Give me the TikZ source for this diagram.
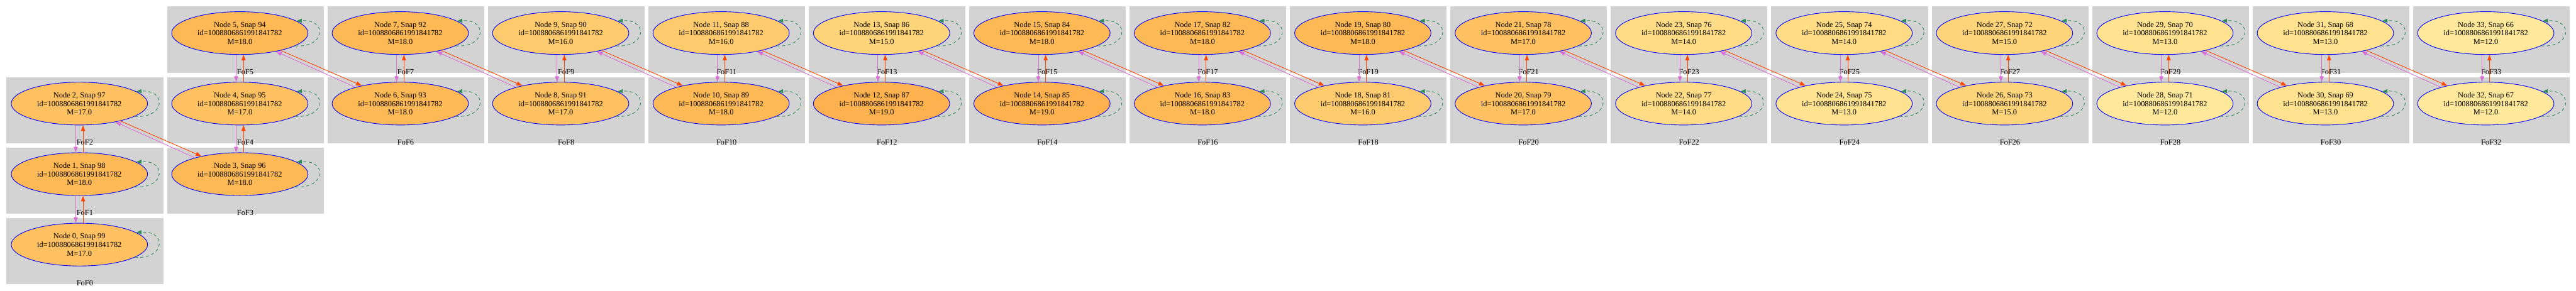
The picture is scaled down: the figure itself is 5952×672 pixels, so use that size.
\documentclass[tikz,border=0pt]{standalone}
\usepackage{fontspec}
\setmainfont{Liberation Serif}
\usetikzlibrary{shapes.geometric,arrows.meta}
\definecolor{clustergray}{HTML}{D3D3D3}
\definecolor{edgered}{HTML}{FF4500}
\definecolor{edgeviolet}{HTML}{DA70D6}
\definecolor{loopgreen}{HTML}{2E8B57}
\definecolor{m19}{HTML}{FDB24F}
\definecolor{m18}{HTML}{FDB955}
\definecolor{m17}{HTML}{FDC161}
\definecolor{m16}{HTML}{FDCB6D}
\definecolor{m15}{HTML}{FDD479}
\definecolor{m14}{HTML}{FEDC85}
\definecolor{m13}{HTML}{FEE290}
\definecolor{m12}{HTML}{FEE89B}
\tikzset{
  fofcluster/.style={fill=clustergray, draw=none, minimum width=362pt, minimum height=153pt, inner sep=0pt, anchor=north west},
  fofnode/.style={ellipse, draw=blue, line width=1.3pt, minimum width=315pt, minimum height=99pt, inner sep=0pt, align=center, font=\fontsize{18}{20}\selectfont},
  foflabel/.style={anchor=base, inner sep=0pt, font=\fontsize{18}{20}\selectfont},
  rededge/.style={draw=edgered, line width=1.3pt, -{Triangle[length=13pt,width=9.5pt]}},
  vioedge/.style={draw=edgeviolet, line width=1.3pt, -{Triangle[length=13pt,width=9.5pt]}},
  selfloop/.style={draw=loopgreen, line width=1.3pt, dash pattern=on 7pt off 6pt, -{Triangle[length=12pt,width=9pt]}}
}
\begin{document}
\begin{tikzpicture}[x=1pt,y=-1pt]
\useasboundingbox (0,0) rectangle (5952,672);
\foreach \i/\c/\r/\m in {0/0/3/17, 1/0/2/18, 2/0/1/17, 3/1/2/18, 4/1/1/17, 5/1/0/18, 6/2/1/18, 7/2/0/18, 8/3/1/17, 9/3/0/16, 10/4/1/18, 11/4/0/16, 12/5/1/19, 13/5/0/15, 14/6/1/19, 15/6/0/18, 16/7/1/18, 17/7/0/18, 18/8/1/16, 19/8/0/18, 20/9/1/17, 21/9/0/17, 22/10/1/14, 23/10/0/14, 24/11/1/13, 25/11/0/14, 26/12/1/15, 27/12/0/15, 28/13/1/12, 29/13/0/13, 30/14/1/13, 31/14/0/13, 32/15/1/12, 33/15/0/12}{
  \pgfmathsetmacro\cl{15+370.67*\c}
  \pgfmathsetmacro\ct{15+163*\r}
  \pgfmathtruncatemacro\snap{99-\i}
  \node[fofcluster] (c\i) at (\cl,\ct) {};
  \node[foflabel] (lab\i) at (\cl+181,\ct+157) {FoF\i};
  \node[fofnode, fill=m\m] (n\i) at (\cl+168.5,\ct+61.5) {Node \i, Snap \snap\\id=1008806861991841782\\M=\m.0};
  \draw[selfloop] (n\i.-13) .. controls +(71,5) and +(71,-5) .. (n\i.12);
}
\foreach \a/\b in {0/1,1/2,3/4,4/5,6/7,8/9,10/11,12/13,14/15,16/17,18/19,20/21,22/23,24/25,26/27,28/29,30/31,32/33}{
  \draw[vioedge] ([xshift=-8.5pt]n\b.south) -- ([xshift=-8.5pt]n\a.north);
  \draw[rededge] ([xshift=8.5pt]n\a.north) -- ([xshift=8.5pt]n\b.south);
}
\foreach \a/\b in {2/3,5/6,7/8,9/10,11/12,13/14,15/16,17/18,19/20,21/22,23/24,25/26,27/28,29/30,31/32}{
  \draw[rededge] (n\a.-23) -- (n\b.155);
  \draw[vioedge] (n\b.160) -- (n\a.-27);
}
\end{tikzpicture}
\end{document}
